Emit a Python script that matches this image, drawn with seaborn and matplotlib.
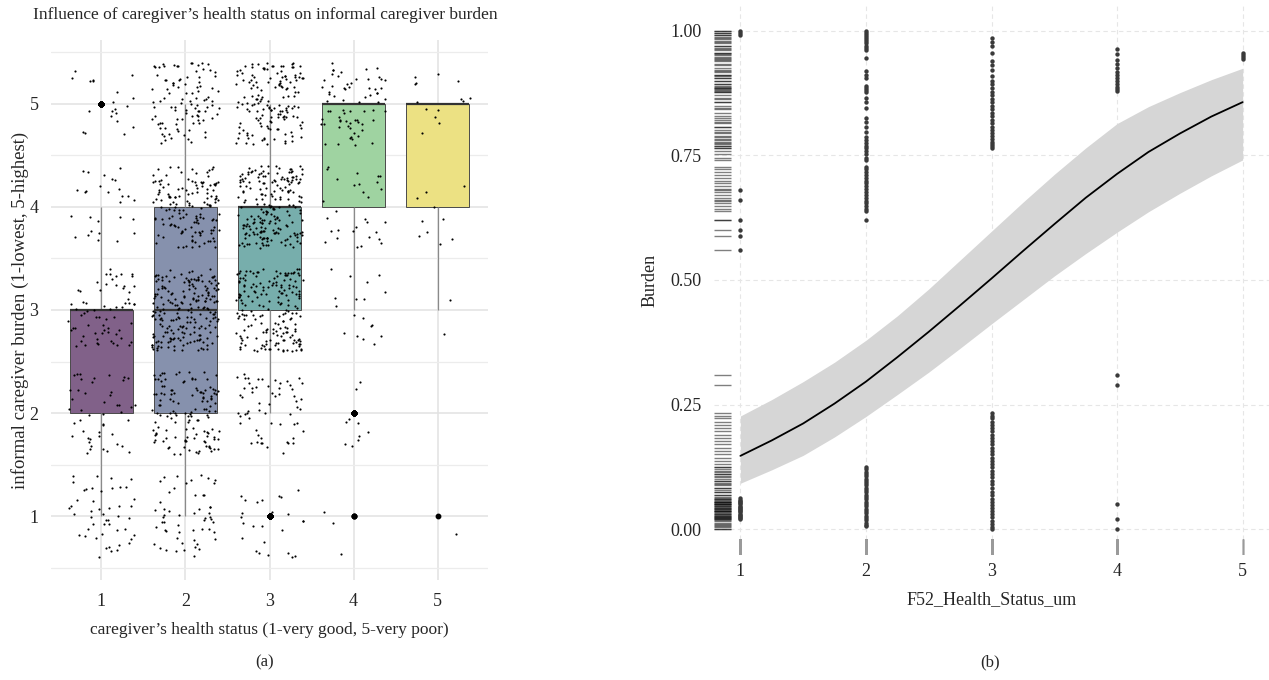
import numpy as np
import pandas as pd
import matplotlib
matplotlib.use("Agg")
import matplotlib.pyplot as plt
import seaborn as sns

# Left panel: number of respondents per (health status, burden level)
health_levels = [1, 2, 3, 4, 5]
burden_levels = [1, 2, 3, 4, 5]
counts_h1 = [48, 47, 66, 28, 20]
counts_h2 = [55, 130, 210, 145, 100]
counts_h3 = [25, 60, 190, 205, 150]
counts_h4 = [3, 10, 18, 30, 70]
counts_h5 = [1, 0, 2, 10, 14]

# Right panel: fitted probability and confidence band
fit_x = [1.0, 1.25, 1.5, 1.75, 2.0, 2.25, 2.5, 2.75, 3.0,
         3.25, 3.5, 3.75, 4.0, 4.25, 4.5, 4.75, 5.0]
fit_y = [0.147, 0.178, 0.212, 0.252, 0.296, 0.345, 0.396, 0.449, 0.503,
         0.558, 0.612, 0.665, 0.713, 0.757, 0.794, 0.828, 0.857]
fit_lo = [0.092, 0.119, 0.148, 0.185, 0.226, 0.270, 0.315, 0.363, 0.412,
          0.460, 0.508, 0.553, 0.596, 0.637, 0.674, 0.709, 0.741]
fit_hi = [0.227, 0.260, 0.296, 0.335, 0.379, 0.428, 0.482, 0.540, 0.598,
          0.656, 0.712, 0.765, 0.814, 0.848, 0.876, 0.902, 0.925]

# Right panel: observed points per health status
burden_x1 = [1.0, 0.996, 0.991, 0.68, 0.66, 0.62, 0.60, 0.588, 0.56,
             0.062, 0.059, 0.057, 0.055, 0.052, 0.05, 0.047, 0.045, 0.043,
             0.04, 0.038, 0.036, 0.034, 0.031, 0.029, 0.027, 0.025, 0.022, 0.02]
burden_x2 = [1.0, 0.996, 0.992, 0.988, 0.984, 0.979, 0.975, 0.97, 0.965, 0.961,
             0.946, 0.92, 0.912, 0.905, 0.89, 0.886, 0.881, 0.877, 0.865, 0.858,
             0.846, 0.826, 0.818, 0.808, 0.797, 0.787, 0.781, 0.776, 0.769, 0.764,
             0.758, 0.752, 0.745, 0.74, 0.727, 0.722, 0.716, 0.711, 0.704, 0.699,
             0.694, 0.688, 0.683, 0.676, 0.671, 0.665, 0.659, 0.654, 0.649, 0.643,
             0.638, 0.62,
             0.124, 0.12, 0.115, 0.111, 0.106, 0.101, 0.097, 0.092, 0.088, 0.083,
             0.078, 0.074, 0.069, 0.064, 0.06, 0.055, 0.05, 0.046, 0.041, 0.036,
             0.032, 0.027, 0.022, 0.018, 0.013, 0.009, 0.006]
burden_x3 = [0.985, 0.978, 0.97, 0.955, 0.94, 0.931, 0.922, 0.91, 0.9, 0.893,
             0.886, 0.878, 0.871, 0.864, 0.857, 0.85, 0.843, 0.836, 0.829, 0.822,
             0.815, 0.808, 0.801, 0.795, 0.789, 0.783, 0.778, 0.773, 0.768, 0.764,
             0.233, 0.228, 0.222, 0.215, 0.209, 0.202, 0.196, 0.189, 0.183, 0.176,
             0.17, 0.163, 0.157, 0.15, 0.143, 0.137, 0.13, 0.124, 0.117, 0.111,
             0.104, 0.097, 0.09, 0.083, 0.075, 0.068, 0.061, 0.055, 0.049, 0.042,
             0.036, 0.03, 0.024, 0.017, 0.011, 0.005, 0.0]
burden_x4 = [0.964, 0.953, 0.942, 0.934, 0.926, 0.918, 0.911, 0.905, 0.899,
             0.893, 0.888, 0.883, 0.879, 0.31, 0.29, 0.05, 0.02, 0.0]
burden_x5 = [0.956, 0.952, 0.948, 0.944]


def spread(k):
    # deterministic hash in [0, 1), used only to scatter points inside a cell
    v = np.sin(k * 12.9898 + 78.233) * 43758.5453
    return v - np.floor(v)


def build_jitter_frame():
    # expand counts into rows, spread each cell like geom_jitter (width/height 0.4)
    rows = []
    k = 1
    all_counts = [counts_h1, counts_h2, counts_h3, counts_h4, counts_h5]
    for h, cnts in zip(health_levels, all_counts):
        for b, n in zip(burden_levels, cnts):
            for j in range(n):
                u = spread(2 * k)
                v = spread(2 * k + 1)
                k += 1
                rows.append({"health": h, "burden": b,
                             "jx": h + (u - 0.5) * 0.8,
                             "jy": b + (v - 0.5) * 0.8})
    return pd.DataFrame(rows)


def box_colors():
    base = plt.get_cmap("viridis")(np.linspace(0, 1, 5))[:, :3]
    mixed = base * 0.65 + 0.35  # alpha 0.65 over white
    return {h: tuple(c) for h, c in zip(health_levels, mixed)}


def plot_left(ax, df):
    sns.boxplot(data=df, x="health", y="burden", hue="health",
                palette=box_colors(), native_scale=True, width=0.75,
                legend=False, showcaps=False, linecolor="#4a4a4a", linewidth=0.7,
                whiskerprops=dict(color="#8a8a8a", linewidth=0.9),
                medianprops=dict(color="#333333", linewidth=1.6),
                flierprops=dict(marker="o", markersize=3.2, markerfacecolor="black",
                                markeredgecolor="black"),
                ax=ax, zorder=2)
    sns.scatterplot(data=df, x="jx", y="jy", s=2.4, color="black",
                    linewidth=0, ax=ax, zorder=3)

    ax.set_xlim(0.4, 5.6)
    ax.set_ylim(0.38, 5.62)
    ax.set_xticks(health_levels)
    ax.set_xticklabels([str(h) for h in health_levels])
    ax.set_yticks(burden_levels)
    ax.set_yticks([0.5, 1.5, 2.5, 3.5, 4.5, 5.5], minor=True)
    ax.grid(True, which="major", color="#e2e2e2", linewidth=1.1, zorder=0)
    ax.grid(True, which="minor", axis="y", color="#ececec", linewidth=0.9, zorder=0)
    ax.set_axisbelow(True)
    ax.tick_params(which="both", length=0, labelsize=13, pad=9)
    for s in ax.spines.values():
        s.set_visible(False)

    ax.set_xlabel("caregiver’s health status (1-very good, 5-very poor)",
                  fontsize=12.5, va="center")
    ax.xaxis.set_label_coords(0.5, -0.093)
    ax.set_ylabel("informal caregiver burden (1-lowest, 5-highest)",
                  fontsize=13.5, va="center")
    ax.yaxis.set_label_coords(-0.071, 0.5)


def plot_right(ax):
    pts_x, pts_y = [], []
    for h, vals in zip(health_levels, [burden_x1, burden_x2, burden_x3, burden_x4, burden_x5]):
        pts_x += [h] * len(vals)
        pts_y += vals

    ax.fill_between(fit_x, fit_lo, fit_hi, color="#d6d6d6", linewidth=0, zorder=1)
    sns.lineplot(x=fit_x, y=fit_y, color="black", linewidth=1.3, ax=ax, zorder=2)
    sns.scatterplot(x=pts_x, y=pts_y, s=10, color="#3a3a3a", linewidth=0,
                    ax=ax, zorder=3)
    sns.rugplot(y=pts_y, height=0.031, color="black", alpha=0.5, lw=1, ax=ax)
    sns.rugplot(x=pts_x, height=0.03, color="#9a9a9a", lw=0.7, ax=ax)

    ax.set_xlim(0.79, 5.21)
    ax.set_ylim(-0.052, 1.052)
    ax.set_xticks(health_levels)
    ax.set_yticks([0.0, 0.25, 0.5, 0.75, 1.0])
    ax.set_yticklabels(["0.00", "0.25", "0.50", "0.75", "1.00"])
    ax.grid(True, color="#e6e6e6", linewidth=0.8, linestyle=(0, (4, 3)), zorder=0)
    ax.set_axisbelow(True)
    ax.tick_params(length=0, labelsize=13)
    ax.tick_params(axis="x", pad=6)
    ax.tick_params(axis="y", pad=9)
    for s in ax.spines.values():
        s.set_visible(False)

    ax.set_xlabel("F52_Health_Status_um", fontsize=13, va="center")
    ax.xaxis.set_label_coords(0.5, -0.082)
    ax.set_ylabel("Burden", fontsize=13, va="center")
    ax.yaxis.set_label_coords(-0.115, 0.5)


if __name__ == "__main__":
    sns.set_style("white")
    plt.rcParams["font.family"] = ["Liberation Serif", "DejaVu Serif"]

    fig = plt.figure(figsize=(12.69, 6.8), dpi=100)
    ax_a = fig.add_axes([51 / 1269, 100 / 680, 437 / 1269, 540 / 680])
    ax_b = fig.add_axes([714 / 1269, 125 / 680, 555 / 1269, 550 / 680])

    df = build_jitter_frame()
    plot_left(ax_a, df)
    plot_right(ax_b)

    fig.text(265 / 1269, 1 - 15 / 680,
             "Influence of caregiver’s health status on informal caregiver burden",
             ha="center", va="center", fontsize=12.5)
    fig.text(265 / 1269, 1 - 662 / 680, "(a)", ha="center", va="center", fontsize=12)
    fig.text(990 / 1269, 1 - 662 / 680, "(b)", ha="center", va="center", fontsize=12)

    fig.savefig("out.png", dpi=100)
